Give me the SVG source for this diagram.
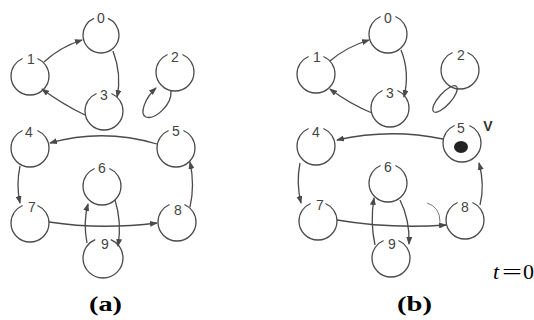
<svg xmlns="http://www.w3.org/2000/svg" width="534" height="320" viewBox="0 0 534 320">
<defs>
<style>
.n{fill:none;stroke:#4a4a4a;stroke-width:1.3;stroke-dasharray:314 46;stroke-dashoffset:67}
.l{font-family:"Liberation Sans",Arial,sans-serif;font-size:14px;fill:#444;text-anchor:middle}
.e{fill:none;stroke:#4a4a4a;stroke-width:1.3}
.cap{font-family:"Liberation Serif","Times New Roman",serif;font-size:21px;font-weight:bold;fill:#000}
.m{font-family:"Liberation Serif","Times New Roman",serif;font-size:22px;fill:#000}
</style>
<marker id="ah" markerWidth="8" markerHeight="6" refX="7" refY="3" orient="auto" markerUnits="userSpaceOnUse">
<path d="M0,0 L8,3 L0,6 Z" fill="#4a4a4a"/>
</marker>
</defs>
<g id="connectors">
<path class="e" d="M44,62 Q60,47 82,40" marker-end="url(#ah)"/>
<path class="e" d="M113,51 Q122,75 117,97" marker-end="url(#ah)"/>
<path class="e" d="M85,115 Q62,104 42,89" marker-end="url(#ah)"/>
<path class="e" d="M171,91 C172,105 155,120 146,117 C139,114 145,98 156,88" marker-end="url(#ah)"/>
<path class="e" d="M157,144 Q103,128 50,143" marker-end="url(#ah)"/>
<path class="e" d="M20,166 Q16,185 20,203" marker-end="url(#ah)"/>
<path class="e" d="M49,222 Q100,230 157,223" marker-end="url(#ah)"/>
<path class="e" d="M87,243 Q83,222 88,204" marker-end="url(#ah)"/>
<path class="e" d="M115,200 Q122,222 118,246" marker-end="url(#ah)"/>
<path class="e" d="M190,207 Q195,185 190,162" marker-end="url(#ah)"/>
<path class="e" d="M330,61 Q346,47 369,40" marker-end="url(#ah)"/>
<path class="e" d="M401,50 Q410,72 404,97" marker-end="url(#ah)"/>
<path class="e" d="M372,113 Q350,104 330,89" marker-end="url(#ah)"/>
<ellipse class="e" cx="445" cy="99" rx="17" ry="6" transform="rotate(-48 445 99)"/>
<path class="e" d="M443,139 Q390,128 337,140" marker-end="url(#ah)"/>
<path class="e" d="M300,163 Q296,183 301,203" marker-end="url(#ah)"/>
<path class="e" d="M337,220 Q390,229 446,225" marker-end="url(#ah)"/>
<path fill="none" stroke="#555" stroke-width="0.8" d="M427,203 Q440,207 440,222"/>
<path class="e" d="M375,245 Q370,222 374,198" marker-end="url(#ah)"/>
<path class="e" d="M400,200 Q410,220 409,244" marker-end="url(#ah)"/>
<path class="e" d="M480,205 Q485,185 479,163" marker-end="url(#ah)"/>
</g>
<g id="a0"><circle class="n" cx="101" cy="35" r="18" pathLength="360"/><text class="l" x="101" y="23">0</text></g>
<g id="a1"><circle class="n" cx="30" cy="76" r="19" pathLength="360"/><text class="l" x="31" y="64">1</text></g>
<g id="a2"><circle class="n" cx="175" cy="72" r="19" pathLength="360"/><text class="l" x="175" y="62">2</text></g>
<g id="a3"><circle class="n" cx="104" cy="111" r="19" pathLength="360"/><text class="l" x="104" y="100">3</text></g>
<g id="a4"><circle class="n" cx="30" cy="148" r="19" pathLength="360"/><text class="l" x="29" y="137">4</text></g>
<g id="a5"><circle class="n" cx="176" cy="148" r="19" pathLength="360"/><text class="l" x="176" y="136">5</text></g>
<g id="a6"><circle class="n" cx="102" cy="186" r="19" pathLength="360"/><text class="l" x="102" y="173">6</text></g>
<g id="a7"><circle class="n" cx="30" cy="223" r="19" pathLength="360"/><text class="l" x="32" y="212">7</text></g>
<g id="a8"><circle class="n" cx="177" cy="222" r="19" pathLength="360"/><text class="l" x="178" y="215">8</text></g>
<g id="a9"><circle class="n" cx="103" cy="258" r="20" pathLength="360"/><text class="l" x="105" y="249">9</text></g>
<g id="b0"><circle class="n" cx="388" cy="34" r="19" pathLength="360"/><text class="l" x="388" y="23">0</text></g>
<g id="b1"><circle class="n" cx="316" cy="74" r="19" pathLength="360"/><text class="l" x="317" y="62">1</text></g>
<g id="b2"><circle class="n" cx="460" cy="70" r="19" pathLength="360"/><text class="l" x="461" y="60">2</text></g>
<g id="b3"><circle class="n" cx="390" cy="108" r="19" pathLength="360"/><text class="l" x="390" y="98">3</text></g>
<g id="b4"><circle class="n" cx="316" cy="146" r="19" pathLength="360"/><text class="l" x="316" y="137">4</text></g>
<g id="b5"><circle class="n" cx="462" cy="143" r="19" pathLength="360"/><text class="l" x="461" y="133">5</text><ellipse cx="461" cy="147" rx="7" ry="6" fill="#222"/><text x="488" y="131" font-family="'Liberation Sans',Arial,sans-serif" font-size="14" font-weight="bold" fill="#333" text-anchor="middle">V</text></g>
<g id="b6"><circle class="n" cx="388" cy="183" r="19" pathLength="360"/><text class="l" x="388" y="172">6</text></g>
<g id="b7"><circle class="n" cx="318" cy="221" r="19" pathLength="360"/><text class="l" x="320" y="210">7</text></g>
<g id="b8"><circle class="n" cx="465" cy="220" r="19" pathLength="360"/><text class="l" x="465" y="212">8</text></g>
<g id="b9"><circle class="n" cx="391" cy="258" r="19" pathLength="360"/><text class="l" x="392" y="249">9</text></g>
<text class="cap" x="89" y="311" textLength="33" lengthAdjust="spacingAndGlyphs">(a)</text>
<text class="cap" x="397" y="311" textLength="35" lengthAdjust="spacingAndGlyphs">(b)</text>
<text class="m" x="493" y="279" font-style="italic">t</text>
<text class="m" x="502" y="279" textLength="20" lengthAdjust="spacingAndGlyphs">=</text>
<text class="m" x="523" y="279">0</text>
</svg>
